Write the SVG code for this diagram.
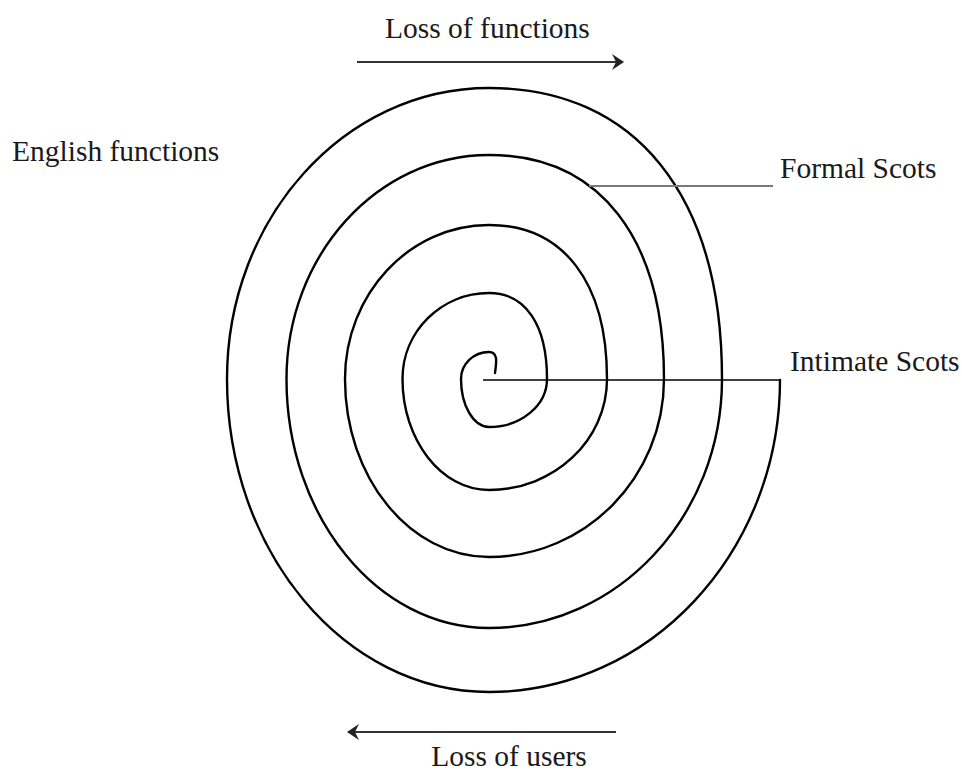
<svg xmlns="http://www.w3.org/2000/svg" width="962" height="774" viewBox="0 0 962 774">
  <defs>
    <style>
      .lbl { font-family: "Liberation Serif", "Times New Roman", serif; font-size: 29.5px; fill: #1a1a1a; }
      .spiral { fill: none; stroke: #000; stroke-width: 2.4; stroke-linecap: round; stroke-linejoin: round; }
      .lead { fill: none; stroke: #000; stroke-width: 1.5; }
      .lead-gray { fill: none; stroke: #7a7a7a; stroke-width: 1.8; }
      .arrow { fill: none; stroke: #333; stroke-width: 1.9; }
    </style>
    <marker id="head" markerUnits="userSpaceOnUse" viewBox="0 0 12 16" markerWidth="12" markerHeight="16" refX="11" refY="8" orient="auto">
      <path d="M0,0 L12,8 L0,16 L4,8 Z" fill="#222"/>
    </marker>
  </defs>
  <rect width="962" height="774" fill="#fff"/>

  <g id="spiral">
    <path class="spiral" d="M495,373 C496,364 499,352 489,352
      C473.5,352 461,364.1 461,379
      C461,405.5 473.5,427 489,427
      C521,427 547,405.5 547,379
      C547,324.8 525.5,293 489,293
      C441.3,293 402.5,331.5 402.5,379
      C402.5,440.3 441.3,490 489,490
      C554.1,490 607,440.3 607,379
      C607,282 563.3,225 489,225
      C409.5,225 345,294 345,379
      C345,477.3 409.5,557 489,557
      C585.6,557 664,477.3 664,379
      C664,237.9 599.3,155 489,155
      C377.2,155 286.5,255.4 286.5,379
      C286.5,516.4 377.2,628 489,628
      C617.6,628 722,516.4 722,379
      C722,195.7 635.8,88 489,88
      C344.4,88 227,218.4 227,379
      C227,551.8 344.4,692 489,692
      C649.6,692 780,552.2 780,380"/>
  </g>

  <g id="connectors">
    <line class="arrow" x1="357" y1="62" x2="623" y2="62" marker-end="url(#head)"/>
    <line class="arrow" x1="616" y1="732" x2="348" y2="732" marker-end="url(#head)"/>
    <line class="lead-gray" x1="589" y1="186" x2="773" y2="186"/>
    <line class="lead" x1="483" y1="380" x2="780" y2="380"/>
  </g>

  <g id="label-loss-functions"><text class="lbl" x="385" y="38">Loss of functions</text></g>
  <g id="label-english"><text class="lbl" x="12" y="161">English functions</text></g>
  <g id="label-formal"><text class="lbl" x="780" y="178">Formal Scots</text></g>
  <g id="label-intimate"><text class="lbl" x="790" y="371">Intimate Scots</text></g>
  <g id="label-loss-users"><text class="lbl" x="509" y="766" text-anchor="middle">Loss of users</text></g>
</svg>
